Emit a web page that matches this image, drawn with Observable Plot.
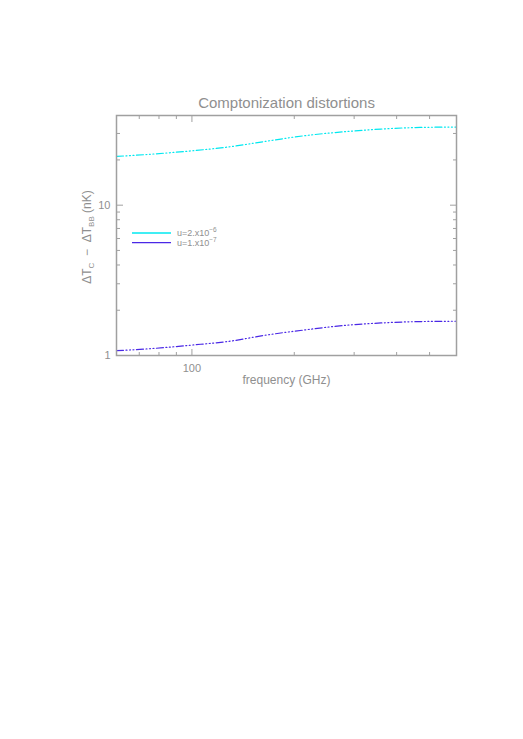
<!DOCTYPE html>
<html><head><meta charset="utf-8">
<script src="https://cdn.jsdelivr.net/npm/d3@7"></script>
<script src="https://cdn.jsdelivr.net/npm/@observablehq/plot@0.6"></script>
<style>
body{margin:0;background:#fff;}
#chart{width:523px;height:739px;}
</style>
</head><body><div id="chart"></div>
<script>
// ---- data ----
const frequency = [60, 75, 100, 130, 165, 215, 285, 360, 470, 600];          // GHz
const highU = [21.1, 21.8, 23.0, 24.5, 26.6, 29.0, 30.9, 32.1, 32.9, 33.1];   // u=2.x10^-6 (nK)
const lowU  = [1.076, 1.109, 1.173, 1.247, 1.366, 1.48, 1.59, 1.646, 1.682, 1.69]; // u=1.x10^-7 (nK)
const seriesKeys = ["high", "low"];
const seriesLabels = [["u=2.x10", "−6"], ["u=1.x10", "−7"]];
const yMajor = [1, 10];
const yMinor = [2, 3, 4, 5, 6, 7, 8, 9, 20, 30];
const xMajor = [100];
const xMinor = [70, 80, 90, 200, 300, 400, 500];
const titleText = "Comptonization distortions";
const xLabel = "frequency (GHz)";

// ---- styles ----
const colors = ["#00e8f0", "#4a28e6"];
const axisColor = "#a0a0a0";
const textColor = "#8f8f8f";
const font = "Liberation Sans, DejaVu Sans, sans-serif";

const data = frequency.flatMap((f, i) => [
  {f, v: highU[i], s: seriesKeys[0]},
  {f, v: lowU[i], s: seriesKeys[1]}
]);

const blank = () => "";
const chart = Plot.plot({
  width: 523, height: 739,
  marginTop: 115, marginRight: 67, marginBottom: 384, marginLeft: 116,
  style: {fontFamily: font, fontSize: "11px", color: textColor, background: "#fff"},
  x: {type: "log", domain: [60, 600]},
  y: {type: "log", domain: [1, 39.5]},
  color: {domain: seriesKeys, range: colors},
  marks: [
    Plot.line(data, {x: "f", y: "v", z: "s", stroke: "s", strokeWidth: 1.2,
      strokeDasharray: "7,2.5,1,2.5,1,2.5,1,2.5", curve: "monotone-x"}),
    // y axes (left labeled, right mirrored), ticks inward
    Plot.axisY({anchor: "left", ticks: yMajor, tickSize: -7, tickPadding: 13, tickFormat: d => String(d), stroke: axisColor, label: null}),
    Plot.axisY({anchor: "left", ticks: yMinor, tickSize: -4, tickFormat: blank, stroke: axisColor, label: null}),
    Plot.axisY({anchor: "right", ticks: yMajor, tickSize: -7, tickFormat: blank, stroke: axisColor, label: null}),
    Plot.axisY({anchor: "right", ticks: yMinor, tickSize: -4, tickFormat: blank, stroke: axisColor, label: null}),
    // x axes
    Plot.axisX({anchor: "bottom", ticks: xMajor, tickSize: -6, tickPadding: 15, tickFormat: d => String(d), stroke: axisColor, label: null}),
    Plot.axisX({anchor: "bottom", ticks: xMinor, tickSize: -3, tickFormat: blank, stroke: axisColor, label: null}),
    Plot.axisX({anchor: "top", ticks: xMajor, tickSize: -6, tickFormat: blank, stroke: axisColor, label: null}),
    Plot.axisX({anchor: "top", ticks: xMinor, tickSize: -3, tickFormat: blank, stroke: axisColor, label: null}),
    Plot.frame({stroke: axisColor, strokeWidth: 1.5}),
    Plot.text([titleText], {frameAnchor: "top", dy: -18, text: d => d, fontSize: 15, fill: textColor}),
    Plot.text([xLabel], {frameAnchor: "bottom", dy: 28, text: d => d, fontSize: 12, fill: textColor})
  ]
});
document.getElementById("chart").append(chart);

// y label with subscripts
const svg = d3.select(chart);
const yl = svg.append("text")
  .attr("transform", "translate(91,237) rotate(-90)")
  .attr("text-anchor", "middle")
  .attr("fill", textColor).attr("font-size", 12).attr("font-family", font);
yl.append("tspan").text("ΔT");
yl.append("tspan").attr("font-size", 8).attr("dy", 3).text("C");
yl.append("tspan").attr("dy", -3).text("  −  ΔT");
yl.append("tspan").attr("font-size", 8).attr("dy", 3).text("BB");
yl.append("tspan").attr("dy", -3).text(" (nK)");

// legend
const lg = svg.append("g").attr("font-family", font).attr("font-size", 9)
  .attr("fill", textColor).attr("text-anchor", "start");
seriesLabels.forEach((lab, i) => {
  const y = 233 + i * 9.6;
  lg.append("line").attr("x1", 132).attr("x2", 171).attr("y1", y).attr("y2", y)
    .attr("stroke", colors[i]).attr("stroke-width", 1.3);
  const t = lg.append("text").attr("x", 177).attr("y", y + 3).attr("text-anchor", "start");
  t.append("tspan").text(lab[0]);
  t.append("tspan").attr("font-size", 6.5).attr("dy", -4).text(lab[1]);
});
</script>
</body></html>
